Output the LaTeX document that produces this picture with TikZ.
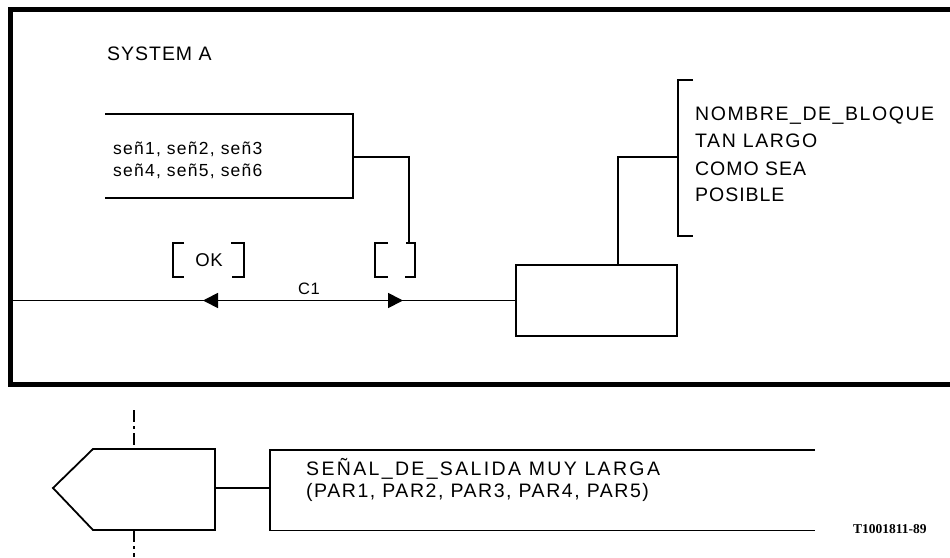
\documentclass[tikz,border=0pt]{standalone}
\usepackage{fontspec}
\setmainfont{Liberation Sans}
\newfontfamily\codefont{Liberation Serif}
\usetikzlibrary{arrows.meta}
\newcommand{\fs}[2]{\fontsize{#1}{#1}\selectfont\addfontfeature{LetterSpace=#2}}
\begin{document}
\begin{tikzpicture}[x=1pt,y=-1pt,
  frameline/.style={line width=5pt},
  ln/.style={line width=1.8pt},
  txt/.style={inner sep=0pt, anchor=base west},
  arr/.style={-{Triangle[length=15pt,width=15pt]}},
  dashdot/.style={line width=1.8pt, dash pattern=on 12pt off 4pt on 3pt off 4pt},
  blockbox/.style={draw, ln, minimum width=161pt, minimum height=71pt, inner sep=0pt}]
\useasboundingbox (0,0) rectangle (950,557);

% outer frame (open on the right)
\coordinate (frTR) at (952,9.5);
\coordinate (frTL) at (10,9.5);
\coordinate (frBL) at (10,384);
\coordinate (frBR) at (952,384);
\draw[frameline] (frTR) -- (frTL) -- (frBL) -- (frBR);

\node[txt] (sysA) at (107,60) {\fs{19.5}{5}SYSTEM A};

% signal list (open on the left)
\coordinate (slTL) at (105,114);
\coordinate (slTR) at (353,114);
\coordinate (slBR) at (353,198);
\coordinate (slBL) at (105,198);
\draw[ln] (slTL) -- (slTR) -- (slBR) -- (slBL);
\node[txt] (sl1) at (113,154) {\fs{17.5}{7}señ1, señ2, señ3};
\node[txt] (sl2) at (113,176) {\fs{17.5}{7}señ4, señ5, señ6};
\coordinate (slOut) at (353,157);

% [OK] bracket
\coordinate (okA) at (184,243); \coordinate (okB) at (173,243);
\coordinate (okC) at (173,277); \coordinate (okD) at (184,277);
\coordinate (okE) at (231,243); \coordinate (okF) at (244,243);
\coordinate (okG) at (244,277); \coordinate (okH) at (232,277);
\draw[ln] (okA) -- (okB) -- (okC) -- (okD);
\draw[ln] (okE) -- (okF) -- (okG) -- (okH);
\node[inner sep=0pt, anchor=base] (ok) at (209,266) {\fs{18.5}{3}OK};

% [ ] bracket
\coordinate (bA) at (388,243); \coordinate (bB) at (375,243);
\coordinate (bC) at (375,277); \coordinate (bD) at (388,277);
\coordinate (bE) at (406,243); \coordinate (bF) at (415,243);
\coordinate (bG) at (415,277); \coordinate (bH) at (405,277);
\coordinate (bIn) at (409,243);
\draw[ln] (bA) -- (bB) -- (bC) -- (bD);
\draw[ln] (bE) -- (bF) -- (bG) -- (bH);
\draw[ln] (slOut) -| (bIn);

% block
\node[blockbox] (blk) at (596.5,300.5) {};
\coordinate (chStart) at (10,300.5);
\draw[ln] (chStart) -- (blk.west);
\coordinate (chMid) at (300,300.5);
\coordinate (tipL) at (203,300.5);
\coordinate (tipR) at (403,300.5);
\draw[ln,arr] (chMid) -- (tipL);
\draw[ln,arr] (chMid) -- (tipR);
\node[inner sep=0pt, anchor=base] (c1) at (309,294) {\fs{16.5}{3}C1};

% block name bracket
\coordinate (nbA) at (693,80); \coordinate (nbB) at (678,80);
\coordinate (nbC) at (678,236); \coordinate (nbD) at (693,236);
\coordinate (nbIn) at (678,157);
\draw[ln] (nbA) -- (nbB) -- (nbC) -- (nbD);
\draw[ln] (blk.north -| 618,0) |- (nbIn);
\node[txt] (nm1) at (695,120) {\fs{19.5}{8}NOMBRE\_DE\_BLOQUE};
\node[txt] (nm2) at (695,147) {\fs{19.5}{8}TAN LARGO};
\node[txt] (nm3) at (695,175) {\fs{19.5}{5}COMO SEA};
\node[txt] (nm4) at (695,201) {\fs{19.5}{5}POSIBLE};

% output symbol
\coordinate (oP) at (53,488);
\coordinate (oTL) at (93,449);
\coordinate (oTR) at (215,449);
\coordinate (oBR) at (215,530);
\coordinate (oBL) at (93,530);
\draw[ln] (oP) -- (oTL) -- (oTR) -- (oBR) -- (oBL) -- cycle;
\coordinate (oTop) at (134,449);
\coordinate (oBot) at (134,530);
\coordinate (dTop) at (134,410);
\coordinate (dBot) at (134,557);
\draw[dashdot] (dTop) -- (oTop);
\draw[dashdot] (oBot) -- (dBot);
\coordinate (oOut) at (215,488);

% output text box (open on the right)
\coordinate (tbTR) at (815,450);
\coordinate (tbTL) at (270,450);
\coordinate (tbBL) at (270,530.5);
\coordinate (tbBR) at (815,530.5);
\coordinate (tbIn) at (270,488);
\draw[ln] (tbTR) -- (tbTL) -- (tbBL) -- (tbBR);
\draw[ln] (oOut) -- (tbIn);
\node[txt] (sg1) at (306,475) {\fs{19.5}{12}SEÑAL\_DE\_SALIDA MUY LARGA};
\node[txt] (sg2) at (306,497) {\fs{19.5}{8}(PAR1, PAR2, PAR3, PAR4, PAR5)};

\node[txt] (ref) at (853,533) {\codefont\bfseries\fontsize{13.5}{13.5}\selectfont T1001811-89};
\end{tikzpicture}
\end{document}
